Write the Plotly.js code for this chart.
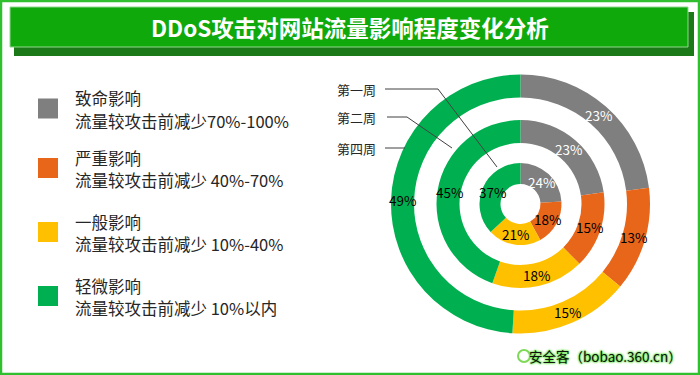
<!DOCTYPE html>
<html>
<head>
<meta charset="utf-8">
<script src="https://cdn.plot.ly/plotly-3.0.1.min.js"></script>
<style>html,body{margin:0;padding:0;background:#fff;}#chart{width:700px;height:375px;}</style>
</head>
<body>
<div id="chart"></div>
<script>
const categories = ["致命影响", "严重影响", "一般影响", "轻微影响"];
const categoryNotes = ["流量较攻击前减少70%-100%", "流量较攻击前减少 40%-70%", "流量较攻击前减少 10%-40%", "流量较攻击前减少 10%以内"];
const weekNames = ["第一周", "第二周", "第四周"];
const week1 = [24, 18, 21, 37];
const week2 = [23, 15, 18, 45];
const week4 = [23, 13, 15, 49];
const colors = ["#7f7f7f", "#e8661a", "#ffc000", "#00b050"];
const labelColors = ["#ffffff", "#000000", "#000000", "#000000"];
const titleText = "DDoS攻击对网站流量影响程度变化分析";
const watermark = "安全客（bobao.360.cn）";

const W = 700, H = 375;
const FONT = "Noto Sans CJK SC, Noto Sans, sans-serif";
const px = x => x / W;
const py = y => 1 - y / H;

// ring geometry (pixels)
const cx = 520.5, cy = 204;
const rings = [
  {vals: week1, r: 41, rin: 20},
  {vals: week2, r: 84, rin: 61},
  {vals: week4, r: 129.5, rin: 106.5}
];

const traces = rings.map((g, i) => ({
  type: "pie",
  name: weekNames[i],
  labels: categories,
  values: g.vals,
  sort: false,
  direction: "clockwise",
  rotation: 0,
  hole: g.rin / g.r,
  domain: {x: [px(cx - g.r), px(cx + g.r)], y: [py(cy + g.r), py(cy - g.r)]},
  marker: {colors: colors, line: {width: 0}},
  textposition: "none",
  showlegend: false,
  hoverinfo: "label+value"
}));

const shapes = [
  {type: "rect", xref: "paper", yref: "paper", x0: px(1), x1: px(699), y0: py(374), y1: py(1), line: {color: "#2fbf2f", width: 2.5}},
  {type: "rect", xref: "paper", yref: "paper", x0: px(14), x1: px(694), y0: py(56), y1: py(12), fillcolor: "#1b7a17", line: {width: 0}},
  {type: "rect", xref: "paper", yref: "paper", x0: px(10), x1: px(688), y0: py(47), y1: py(7), fillcolor: "#10a90c", line: {color: "#8fd88c", width: 1}}
];

const annotations = [
  {xref: "paper", yref: "paper", x: px(350), y: py(27), text: "<b>" + titleText + "</b>", showarrow: false,
   font: {family: FONT, size: 22.5, color: "#ffffff"}, xanchor: "center", yanchor: "middle"}
];

// percentage labels placed at each slice's mid-angle, mid-radius (derived from the values)
rings.forEach(g => {
  const total = g.vals.reduce((a, b) => a + b, 0);
  const rm = (g.r + g.rin) / 2;
  let acc = 0;
  g.vals.forEach((v, k) => {
    const a = (acc + v / 2) / total * 2 * Math.PI;
    acc += v;
    annotations.push({xref: "paper", yref: "paper", x: px(cx + rm * Math.sin(a)), y: py(cy - rm * Math.cos(a)),
      text: v + "%", showarrow: false, xanchor: "center", yanchor: "middle",
      font: {family: FONT, size: 13.5, color: labelColors[k]}});
  });
});

// legend
const sqY = [108.5, 168, 232, 296];
categories.forEach((c, i) => {
  shapes.push({type: "rect", xref: "paper", yref: "paper", x0: px(38), x1: px(58), y0: py(sqY[i] + 10), y1: py(sqY[i] - 10),
    fillcolor: colors[i], line: {width: 0}});
  annotations.push({xref: "paper", yref: "paper", x: px(73), y: py(sqY[i] - 10), text: c, showarrow: false,
    font: {family: FONT, size: 16.5, color: "#262626"}, xanchor: "left", yanchor: "middle"});
  annotations.push({xref: "paper", yref: "paper", x: px(73), y: py(sqY[i] + 12), text: categoryNotes[i], showarrow: false,
    font: {family: FONT, size: 16.5, color: "#262626"}, xanchor: "left", yanchor: "middle"});
});

// week labels with leader lines
const wl = [
  {y: 89, path: [[385, 89], [438, 89], [497, 167]]},
  {y: 117, path: [[387, 117], [407, 117], [452, 148]]},
  {y: 148, path: [[385, 148], [405, 148]]}
];
wl.forEach((w, i) => {
  annotations.push({xref: "paper", yref: "paper", x: px(378), y: py(w.y), text: weekNames[i], showarrow: false,
    font: {family: FONT, size: 13, color: "#262626"}, xanchor: "right", yanchor: "middle"});
  const p = "M " + w.path.map(q => px(q[0]) + " " + py(q[1])).join(" L ");
  shapes.push({type: "path", xref: "paper", yref: "paper", path: p, line: {color: "#404040", width: 1}});
});

// watermark
shapes.push({type: "circle", xref: "paper", yref: "paper", x0: px(518), x1: px(530), y0: py(362), y1: py(350),
  line: {color: "#7ed957", width: 2}, fillcolor: "rgba(0,0,0,0)"});
annotations.push({xref: "paper", yref: "paper", x: px(684), y: py(356), text: watermark, showarrow: false,
  font: {family: FONT, size: 13.5, color: "#111111", shadow: "0 0 2px #55dd33, 0 0 2px #55dd33, 0 0 3px #88ee66"},
  xanchor: "right", yanchor: "middle"});

const layout = {
  width: W, height: H,
  margin: {l: 0, r: 0, t: 0, b: 0},
  paper_bgcolor: "#ffffff",
  plot_bgcolor: "#ffffff",
  showlegend: false,
  shapes: shapes,
  annotations: annotations,
  font: {family: FONT}
};

Plotly.newPlot("chart", traces, layout, {displayModeBar: false, staticPlot: true});
</script>
</body>
</html>
